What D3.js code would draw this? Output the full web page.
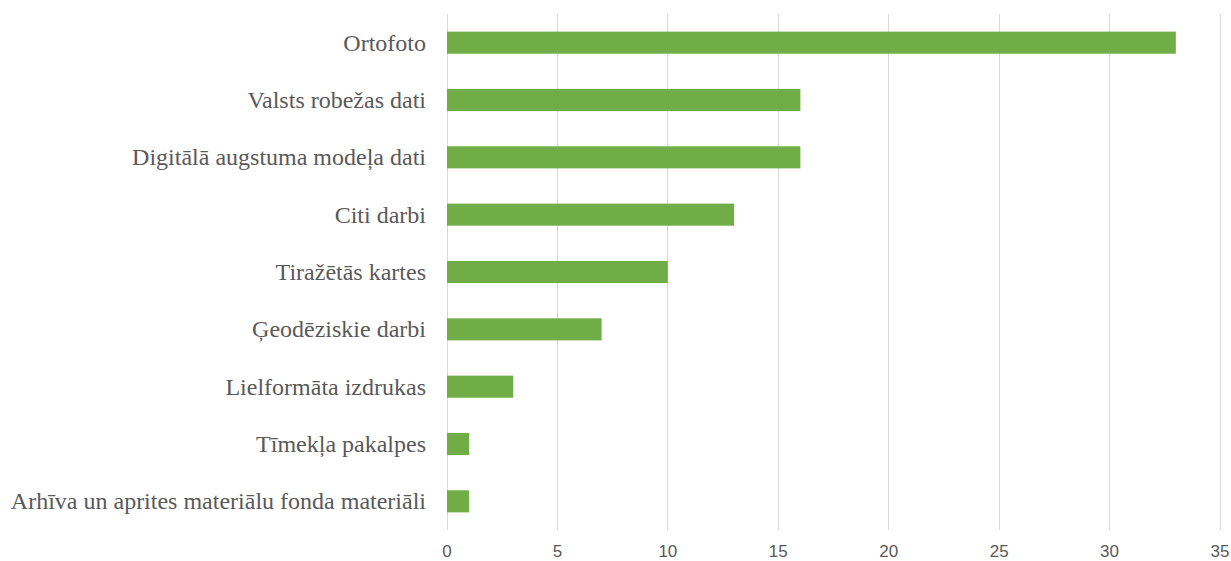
<!DOCTYPE html>
<html><head><meta charset="utf-8">
<script src="https://cdn.jsdelivr.net/npm/d3@7"></script>
<style>body{margin:0;background:#fff}</style>
</head><body><svg id="c" width="1231" height="561"></svg>
<script>
const categories = ["Ortofoto","Valsts robežas dati","Digitālā augstuma modeļa dati","Citi darbi","Tiražētās kartes","Ģeodēziskie darbi","Lielformāta izdrukas","Tīmekļa pakalpes","Arhīva un aprites materiālu fonda materiāli"];
const values = [33,16,16,13,10,7,3,1,1];
const ticks = [0,5,10,15,20,25,30,35];

const svg = d3.select("#c");
const m = {l:447, r:1220, t:14, b:530};
const x = d3.scaleLinear().domain([0,35]).range([m.l,m.r]);
const y = d3.scaleBand().domain(categories).range([m.t,m.b]).paddingInner(0.615).paddingOuter(0.3075);

svg.append("g").selectAll("line").data(ticks).join("line")
  .attr("x1",d=>x(d)).attr("x2",d=>x(d)).attr("y1",m.t).attr("y2",m.b)
  .attr("stroke","#d9d9d9").attr("stroke-width",1).attr("shape-rendering","crispEdges");

svg.append("g").selectAll("rect").data(values).join("rect")
  .attr("x",x(0)).attr("y",(d,i)=>y(categories[i]))
  .attr("width",d=>x(d)-x(0)).attr("height",y.bandwidth())
  .attr("fill","#70ad47");

svg.append("g").selectAll("text").data(categories).join("text")
  .attr("x",426).attr("y",d=>y(d)+y.bandwidth()/2).attr("dy","0.33em")
  .attr("text-anchor","end").style("font-family","Liberation Serif")
  .style("font-size","24px").attr("fill","#595959").text(d=>d);

svg.append("g").selectAll("text").data(ticks).join("text")
  .attr("x",d=>x(d)).attr("y",551).attr("dy","0.35em")
  .attr("text-anchor","middle").style("font-family","Liberation Sans")
  .style("font-size","17px").attr("fill","#595959").text(d=>d);
</script></body></html>
